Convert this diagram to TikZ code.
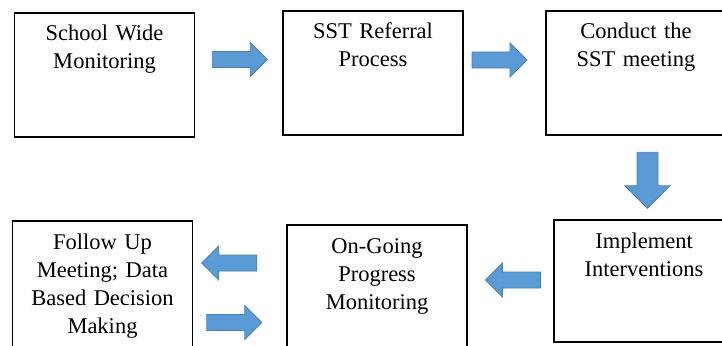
\documentclass[tikz,border=0pt]{standalone}
\usepackage{fontspec}
\setmainfont{Liberation Serif}
\usetikzlibrary{shapes,arrows}
\definecolor{arrowfill}{HTML}{5B9BD5}
\definecolor{arrowline}{HTML}{4A7EBB}

\begin{document}
\begin{tikzpicture}[x=1pt, y=-1pt,
    block_step/.style ={rectangle, draw=black, line width=1.2pt, fill=white,
      text width=172pt, align=center, inner sep=4pt,
      text height=24pt, text depth=92pt,
      font=\fontsize{22.5pt}{28pt}\selectfont},
    block_arrow/.style ={single arrow, draw=arrowline, fill=arrowfill,
      line width=0.8pt, inner sep=7.6pt, single arrow head extend=9pt,
      minimum height=55pt},
    block_arrow_big/.style ={block_arrow, inner sep=10.1pt,
      single arrow head extend=12pt, minimum height=56pt}]
    \useasboundingbox (0,0) rectangle (722,345);
    % top row
    \node [block_step] (school) at (104.5,75) {School Wide\\ Monitoring};
    \node [block_step] (referral) at (373,73) {SST Referral\\ Process};
    \node [block_step] (conduct) at (636,73) {Conduct the\\ SST meeting};
    % bottom row
    \node [block_step, text depth=90pt] (implement) at (644,281) {Implement\\ Interventions};
    \node [block_step] (ongoing) at (377,287) {On-Going\\ Progress\\ Monitoring};
    \node [block_step, text depth=98pt] (followup) at (102.5,286) {Follow Up\\ Meeting; Data\\ Based Decision\\ Making};
    % block arrows between the steps
    \path (school) -- (referral)
      node [block_arrow, midway, xshift=-3pt, yshift=14.5pt] (arrow1) {};
    \path (referral) -- (conduct)
      node [block_arrow, midway, xshift=-9pt, yshift=13pt] (arrow2) {};
    \path (conduct) -- (implement)
      node [block_arrow_big, midway, xshift=7.5pt, yshift=2.5pt, rotate=-90] (arrow3) {};
    \path (implement) -- (ongoing)
      node [block_arrow, midway, xshift=6.5pt, yshift=4pt, rotate=180] (arrow4) {};
    \path (ongoing) -- (followup)
      node [block_arrow, midway, xshift=-6.5pt, yshift=23.5pt, rotate=180] (arrow5) {};
    \path (followup) -- (ongoing)
      node [block_arrow, midway, xshift=-9.5pt, yshift=-36pt] (arrow6) {};
\end{tikzpicture}
\end{document}
